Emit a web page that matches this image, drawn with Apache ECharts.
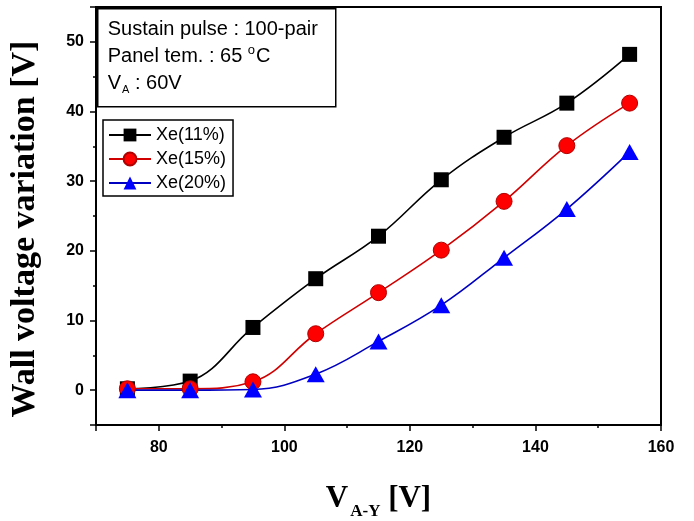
<!DOCTYPE html>
<html>
<head>
<meta charset="utf-8">
<script src="https://cdn.jsdelivr.net/npm/echarts@6/dist/echarts.min.js"></script>
<style>
  html, body { margin: 0; padding: 0; background: #fff; }
  #chart { width: 694px; height: 521px; }
</style>
</head>
<body>
<div id="chart"></div>
<script>
// V_A-Y sweep [V]
var voltages = [75, 85, 95, 105, 115, 125, 135, 145, 155];
// wall voltage variation [V]
var xe11 = [0.2, 1.3, 9, 16, 22.1, 30.2, 36.3, 41.2, 48.2];
var xe15 = [0.2, 0.2, 1.2, 8.1, 14, 20.1, 27.1, 35.1, 41.2];
var xe20 = [0, 0, 0.1, 2.3, 7, 12.2, 19, 26, 34.2];
var seriesNames = ['Xe(11%)', 'Xe(15%)', 'Xe(20%)'];

function pairs(ys) {
  var out = [];
  for (var i = 0; i < voltages.length; i++) {
    out.push([voltages[i], ys[i]]);
  }
  return out;
}

var chart = echarts.init(document.getElementById('chart'));
var axisFont = { fontFamily: 'Liberation Sans, Arial', fontWeight: 'bold', fontSize: 16, color: '#000' };
var serif = 'Liberation Serif, Times New Roman';

var option = {
  animation: false,
  backgroundColor: '#fff',
  grid: {
    left: 96, right: 33, top: 7, bottom: 96,
    outerBoundsMode: 'none',
    containLabel: false,
    show: true, borderColor: '#000', borderWidth: 2
  },
  legend: {
    orient: 'vertical',
    left: 103, top: 120,
    padding: [6, 7, 4, 5],
    itemWidth: 42, itemHeight: 16, itemGap: 6,
    borderColor: '#000', borderWidth: 1.5,
    backgroundColor: '#fff',
    textStyle: { fontFamily: 'Liberation Sans, Arial', fontSize: 18, color: '#000' },
    data: seriesNames
  },
  xAxis: {
    type: 'value',
    min: 70, max: 160,
    minInterval: 20, maxInterval: 20,
    axisLine: { onZero: false, lineStyle: { color: '#000', width: 2 } },
    axisTick: { inside: false, length: 6, lineStyle: { color: '#000', width: 1.5 } },
    minorTick: { show: true, splitNumber: 2, length: 3, lineStyle: { color: '#000', width: 1.5 } },
    splitLine: { show: false },
    axisLabel: Object.assign({ margin: 15, showMinLabel: false }, axisFont),
    name: '{v|V}{s|A-Y}{v| [V]}',
    nameLocation: 'middle',
    nameGap: 53,
    nameTextStyle: {
      rich: {
        v: { fontFamily: serif, fontWeight: 'bold', fontSize: 31, color: '#000' },
        s: { fontFamily: serif, fontWeight: 'bold', fontSize: 17, color: '#000', padding: [25, 0, 0, 2] }
      }
    }
  },
  yAxis: {
    type: 'value',
    min: -5, max: 55,
    minInterval: 10, maxInterval: 10,
    axisLine: { onZero: false, lineStyle: { color: '#000', width: 2 } },
    axisTick: { inside: false, length: 6, lineStyle: { color: '#000', width: 1.5 } },
    minorTick: { show: true, splitNumber: 2, length: 3, lineStyle: { color: '#000', width: 1.5 } },
    splitLine: { show: false },
    axisLabel: Object.assign({ margin: 12, showMinLabel: false, showMaxLabel: false }, axisFont),
    name: 'Wall voltage variation [V]',
    nameLocation: 'middle',
    nameGap: 54,
    nameTextStyle: { fontFamily: serif, fontWeight: 'bold', fontSize: 34, color: '#000', padding: [0, 26, 0, 0] }
  },
  graphic: [{
    type: 'group',
    left: 97, top: 8,
    children: [{
      type: 'rect',
      shape: { x: 0, y: 0, width: 238, height: 98 },
      style: { fill: '#fff', stroke: '#000', lineWidth: 1.5 }
    }, {
      type: 'text',
      x: 10, y: 7,
      style: {
        text: '{t|Sustain pulse : 100-pair}\n{t|Panel tem. : 65 }{sup|o}{t|C}\n{t|V}{sub|A}{t| : 60V}',
        rich: {
          t: { fontFamily: 'Liberation Sans, Arial', fontSize: 20, color: '#000', lineHeight: 27 },
          sup: { fontFamily: 'Liberation Sans, Arial', fontSize: 13, color: '#000', padding: [0, 1, 12, 0], lineHeight: 27 },
          sub: { fontFamily: 'Liberation Sans, Arial', fontSize: 11, color: '#000', padding: [14, 0, 0, 1], lineHeight: 27 }
        }
      }
    }]
  }],
  series: [{
    name: seriesNames[0],
    type: 'line',
    data: pairs(xe11),
    smooth: 0.4,
    symbol: 'rect',
    symbolSize: 15,
    lineStyle: { color: '#000', width: 1.6 },
    itemStyle: { color: '#000' }
  }, {
    name: seriesNames[1],
    type: 'line',
    data: pairs(xe15),
    smooth: 0.4,
    symbol: 'circle',
    symbolSize: 16,
    lineStyle: { color: '#d00000', width: 1.6 },
    itemStyle: { color: '#ff0000', borderColor: '#b00000', borderWidth: 1 }
  }, {
    name: seriesNames[2],
    type: 'line',
    data: pairs(xe20),
    smooth: 0.4,
    symbol: 'triangle',
    symbolSize: [18, 16],
    lineStyle: { color: '#0000c0', width: 1.6 },
    itemStyle: { color: '#0000ff' }
  }]
};

chart.setOption(option);
</script>
</body>
</html>
